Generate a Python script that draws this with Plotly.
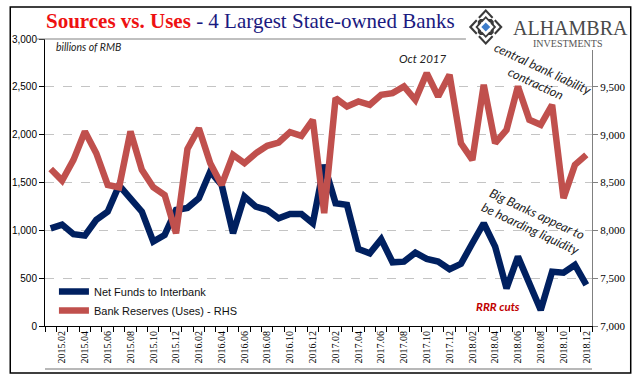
import plotly.graph_objects as go

# ---- data ----
months = [f"{y}.{m:02d}" for y in (2015, 2016, 2017, 2018) for m in range(1, 13)]

net_funds_interbank = [
    1020, 1060, 960, 945, 1110, 1195, 1470, 1336, 1196, 882, 952, 1213,
    1235, 1336, 1614, 1475, 970, 1353, 1248, 1213, 1126, 1172, 1172, 1074,
    1684, 1283, 1266, 805, 760, 907, 666, 673, 767, 701, 673, 593,
    650, 865, 1074, 830, 394, 725, 447, 167, 568, 558, 638, 429,
]
bank_reserves = [
    8642, 8520, 8736, 9033, 8806, 8475, 8450, 9033, 8632, 8450, 8370, 7970,
    8850, 9067, 8702, 8475, 8789, 8702, 8806, 8883, 8918, 9026, 8987, 9155,
    8179, 9382, 9294, 9347, 9312, 9416, 9434, 9504, 9364, 9643, 9399, 9626,
    8910, 8736, 9521, 8911, 9050, 9504, 9155, 9103, 9312, 8336, 8684, 8789,
]
left_ticks = [0, 500, 1000, 1500, 2000, 2500, 3000]
right_ticks = [7000, 7500, 8000, 8500, 9000, 9500]

BLUE = "#002060"
RED = "#C0504D"

# plot-area pixel geometry
PX0, PX1, PY0, PY1 = 41, 592, 39, 326
W, H = 641, 381


def fx(px):
    return (px - PX0) / (PX1 - PX0)


def fy(py):
    return (PY1 - py) / (PY1 - PY0)


x_idx = list(range(len(months)))

fig = go.Figure()
fig.add_trace(go.Scatter(
    x=x_idx, y=net_funds_interbank, name="Net Funds to Interbank",
    mode="lines", line=dict(color=BLUE, width=6.5), yaxis="y",
))
fig.add_trace(go.Scatter(
    x=x_idx, y=bank_reserves, name="Bank Reserves (Uses) - RHS",
    mode="lines", line=dict(color=RED, width=6.5), yaxis="y2",
))

fig.update_layout(
    width=W, height=H,
    margin=dict(l=PX0, r=W - PX1, t=PY0, b=H - PY1, pad=0),
    paper_bgcolor="white", plot_bgcolor="white",
    showlegend=True,
    legend=dict(
        x=fx(50), y=fy(277), xanchor="left", yanchor="top",
        bgcolor="rgba(0,0,0,0)", borderwidth=0,
        font=dict(family="Liberation Sans, Arial", size=11, color="#111"),
        tracegroupgap=0, itemwidth=30,
    ),
    xaxis=dict(
        range=[-0.5, len(months) - 0.5],
        tickmode="array",
        tickvals=x_idx[1::2], ticktext=months[1::2],
        tickangle=-90,
        ticks="outside", ticklen=0,
        tickfont=dict(family="Liberation Serif, Times New Roman", size=10, color="black"),
        showline=True, linecolor="black", linewidth=1,
        showgrid=False, zeroline=False,
        minor=dict(tickmode="array", tickvals=[i - 0.5 for i in range(len(months) + 1)],
                   ticks="outside", ticklen=5, tickcolor="black", tickwidth=1, showgrid=False),
    ),
    yaxis=dict(
        range=[0, 3000], tickmode="array", tickvals=left_ticks,
        ticktext=[f"{v:,}" for v in left_ticks],
        ticks="outside", ticklen=5, tickcolor="black",
        tickfont=dict(family="Liberation Sans, Arial", size=10, color="black"),
        showline=True, linecolor="black", linewidth=1,
        showgrid=True, gridcolor="#c4c4c4", griddash="dash", gridwidth=1,
        zeroline=False,
    ),
    yaxis2=dict(
        range=[7000, 10000], overlaying="y", side="right",
        tickmode="array", tickvals=right_ticks,
        ticktext=[f"{v:,}" for v in right_ticks],
        ticks="outside", ticklen=5, tickcolor="#808080",
        tickfont=dict(family="Liberation Serif, Times New Roman", size=11, color="black"),
        showline=True, linecolor="#808080", linewidth=1,
        showgrid=False, zeroline=False,
    ),
)

shapes = []
# outer frame
shapes.append(dict(type="rect", xref="paper", yref="paper",
                   x0=fx(6), x1=fx(631), y0=fy(7), y1=fy(373),
                   line=dict(color="black", width=1.5), layer="above"))
# plot top border
shapes.append(dict(type="line", xref="paper", yref="paper",
                   x0=fx(32), x1=fx(PX1), y0=fy(PY0), y1=fy(PY0),
                   line=dict(color="#808080", width=1), layer="above"))
# bottom gray line under labels
shapes.append(dict(type="line", xref="paper", yref="paper",
                   x0=fx(PX0), x1=fx(PX1), y0=fy(369), y1=fy(369),
                   line=dict(color="#a0a0a0", width=1.5), layer="above"))
# logo white box
shapes.append(dict(type="rect", xref="paper", yref="paper",
                   x0=fx(465), x1=fx(630), y0=fy(8.5), y1=fy(50),
                   line=dict(width=0), fillcolor="white", layer="above"))


def diamond(cx, cy, rx, ry, fill, line_color=None, lw=0):
    path = (f"M {fx(cx)},{fy(cy - ry)} L {fx(cx + rx)},{fy(cy)} "
            f"L {fx(cx)},{fy(cy + ry)} L {fx(cx - rx)},{fy(cy)} Z")
    return dict(type="path", xref="paper", yref="paper", path=path,
                fillcolor=fill, line=dict(color=line_color or fill, width=lw),
                layer="above")


def square(cx, cy, r, fill):
    return dict(type="rect", xref="paper", yref="paper",
                x0=fx(cx - r), x1=fx(cx + r), y0=fy(cy + r), y1=fy(cy - r),
                fillcolor=fill, line=dict(width=0), layer="above")


LCX, LCY = 485, 27
shapes.append(diamond(LCX, LCY, 17, 18, "#3a3a3a"))
shapes.append(diamond(LCX, LCY, 14, 15, "white"))
shapes.append(square(LCX, LCY, 8, "#3a3a3a"))
shapes.append(diamond(LCX, LCY, 10.5, 11, "#3a3a3a"))
shapes.append(diamond(LCX, LCY, 8, 8.5, "white"))
shapes.append(square(LCX, LCY, 4.6, "white"))
shapes.append(diamond(LCX, LCY, 4.5, 4.5, "#3d7cc9"))
for dx, dy in [(-8, -8), (8, -8), (-8, 8), (8, 8)]:
    shapes.append(diamond(LCX + dx, LCY + dy, 2.2, 2.2, "white"))
fig.update_layout(shapes=shapes)

ann = []
# title
ann.append(dict(
    xref="paper", yref="paper", x=fx(40), y=fy(21), xanchor="left", yanchor="middle",
    showarrow=False,
    text=("<span style='color:#EE1111'><b>Sources vs. Uses</b></span>"
          "<span style='color:#1a1a80'> - 4 Largest State-owned Banks</span>"),
    font=dict(family="Liberation Serif, DejaVu Serif, serif", size=21),
))
ann.append(dict(xref="paper", yref="paper", x=fx(510), y=fy(28), xanchor="left", yanchor="middle",
                showarrow=False, text="ALHAMBRA",
                font=dict(family="Liberation Serif, serif", size=20, color="#4a4a4a")))
ann.append(dict(xref="paper", yref="paper", x=fx(567), y=fy(44), xanchor="center", yanchor="middle",
                showarrow=False, text="INVESTMENTS",
                font=dict(family="Liberation Serif, serif", size=10, color="#555555")))
ann.append(dict(xref="paper", yref="paper", x=fx(50), y=fy(47), xanchor="left", yanchor="middle",
                showarrow=False, text="<i>billions of RMB</i>",
                font=dict(family="Lato, Open Sans, sans-serif", size=10.5, color="#222")))
ann.append(dict(xref="paper", yref="paper", x=fx(422), y=fy(58), xanchor="center", yanchor="middle",
                showarrow=False, text="<i>Oct 2017</i>",
                font=dict(family="Lato, Open Sans, sans-serif", size=11.5, color="#222")))
ann.append(dict(xref="paper", yref="paper", x=fx(540), y=fy(76), xanchor="center", yanchor="middle",
                showarrow=False, textangle=25,
                text="<i>central bank liability<br>contraction</i>",
                font=dict(family="Lato, Open Sans, sans-serif", size=12.5, color="#222")))
ann.append(dict(xref="paper", yref="paper", x=fx(534), y=fy(221), xanchor="center", yanchor="middle",
                showarrow=False, textangle=25,
                text="<i>Big Banks appear to<br>be hoarding liquidity</i>",
                font=dict(family="Lato, Open Sans, sans-serif", size=12.5, color="#222")))
ann.append(dict(xref="paper", yref="paper", x=fx(497), y=fy(306), xanchor="center", yanchor="middle",
                showarrow=False, text="<b><i>RRR cuts</i></b>",
                font=dict(family="Lato, Open Sans, sans-serif", size=11.5, color="#C00000")))
fig.update_layout(annotations=ann)

fig.write_html("out.html", config={"displayModeBar": False},
               post_script="document.body.style.margin='0';")
